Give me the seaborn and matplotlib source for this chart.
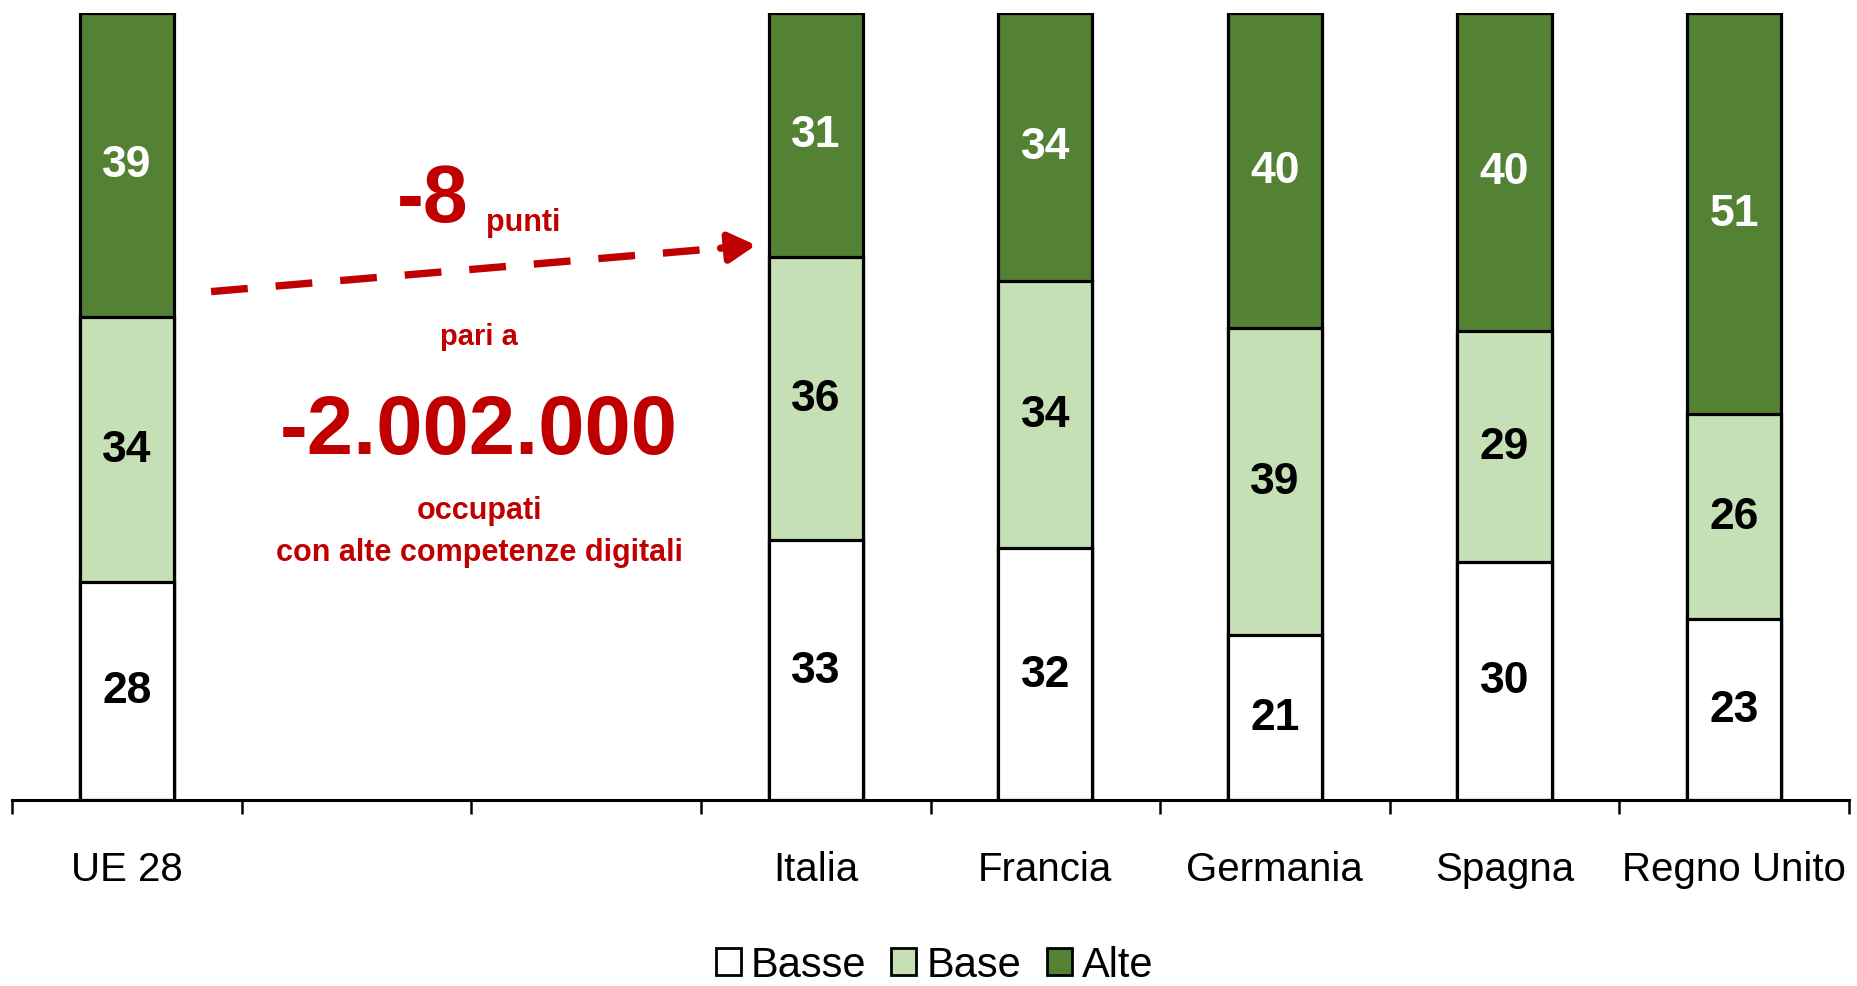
import matplotlib
matplotlib.use("Agg")
import matplotlib.pyplot as plt
from matplotlib import font_manager
from matplotlib.patches import Patch
import seaborn as sns
import pandas as pd
import numpy as np

# ---- data ----
slots = ["UE 28", " ", "  ", "Italia", "Francia", "Germania", "Spagna", "Regno Unito"]
countries = ["UE 28", "Italia", "Francia", "Germania", "Spagna", "Regno Unito"]
basse = [28, 33, 32, 21, 30, 23]
base = [34, 36, 34, 39, 29, 26]
alte = [39, 31, 34, 40, 40, 51]
series_names = ["Basse", "Base", "Alte"]
colors = ["#FFFFFF", "#C5E0B4", "#548235"]

sns.set_theme(style="white")
names = {f.name for f in font_manager.fontManager.ttflist}
fam = "Liberation Sans Narrow" if "Liberation Sans Narrow" in names else "Liberation Sans"
plt.rcParams["font.family"] = [fam, "DejaVu Sans"]
plt.rcParams["text.color"] = "black"
plt.rcParams["xtick.color"] = "black"

df = pd.DataFrame({"paese": countries, "Basse": basse, "Base": base, "Alte": alte})
tot = df[["Basse", "Base", "Alte"]].sum(axis=1)
pct = df[["Basse", "Base", "Alte"]].div(tot, axis=0) * 100
df["c1"] = pct["Basse"]
df["c2"] = pct["Basse"] + pct["Base"]
df["c3"] = pct["Basse"] + pct["Base"] + pct["Alte"]

fig = plt.figure(figsize=(18.58, 9.87), dpi=100)
ax = fig.add_axes([12 / 1858, 1 - 801 / 987, (1849 - 12) / 1858, (801 - 14) / 987])

W = 0.41
for col, c in zip(["c3", "c2", "c1"], colors[::-1]):
    sns.barplot(data=df, x="paese", y=col, order=slots, color=c, width=W,
                edgecolor="black", linewidth=2.3, saturation=1, ax=ax, errorbar=None)

# value labels
pos = {s: i for i, s in enumerate(slots)}
for _, r in df.iterrows():
    x = pos[r["paese"]]
    lows = [0, r["c1"], r["c2"]]
    highs = [r["c1"], r["c2"], r["c3"]]
    vals = [r["Basse"], r["Base"], r["Alte"]]
    for k in range(3):
        ax.text(x, (lows[k] + highs[k]) / 2, f"{int(vals[k])}", ha="center", va="center",
                fontsize=32, fontweight="bold", color="white" if k == 2 else "black")

ax.set_ylim(0, 100)
ax.set_xlim(-0.5, len(slots) - 0.5)
ax.set_xlabel("")
ax.set_ylabel("")
ax.set_yticks([])
for s in ["top", "right", "left"]:
    ax.spines[s].set_visible(False)
ax.spines["bottom"].set_linewidth(2.2)
ax.spines["bottom"].set_color("black")

ax.set_xticks(np.arange(-0.5, len(slots), 1.0))
ax.set_xticklabels([])
ax.tick_params(axis="x", which="major", length=10, width=1.8, color="black", direction="out", bottom=True)
ax.set_xticks(np.arange(len(slots)), minor=True)
ax.set_xticklabels(slots, minor=True, fontsize=29, color="black")
ax.tick_params(axis="x", which="minor", length=0, pad=36)

# annotations
red = "#C00000"
x0, y0, x1, y1 = 0.367, 64.6, 2.74, 70.5
t = 0.955
xm, ym = x0 + (x1 - x0) * t, y0 + (y1 - y0) * t
ax.annotate("", xy=(xm, ym), xytext=(x0, y0),
            arrowprops=dict(arrowstyle="-", color=red, lw=5.3, linestyle=(0, (5.0, 3.8)),
                            shrinkA=0, shrinkB=0, capstyle="butt"))
ax.annotate("", xy=(x1, y1), xytext=(xm - (x1 - x0) * 0.02, ym - (y1 - y0) * 0.02),
            arrowprops=dict(arrowstyle="-|>,head_length=1.6,head_width=0.9", color=red, lw=5.3,
                            shrinkA=0, shrinkB=0, mutation_scale=10))
ax.text(1.33, 76.3, "-8", ha="center", va="center", color=red, fontsize=58, fontweight="bold")
ax.text(1.565, 73.4, "punti", ha="left", va="center", color=red, fontsize=22, fontweight="bold")
ax.text(1.534, 59.0, "pari a", ha="center", va="center", color=red, fontsize=21, fontweight="bold")
ax.text(1.534, 46.9, "-2.002.000", ha="center", va="center", color=red, fontsize=60, fontweight="bold")
ax.text(1.534, 36.8, "occupati", ha="center", va="center", color=red, fontsize=22, fontweight="bold")
ax.text(1.534, 31.5, "con alte competenze digitali", ha="center", va="center", color=red,
        fontsize=22, fontweight="bold")

handles = [Patch(facecolor=c, edgecolor="black", linewidth=2, label=n) for n, c in zip(series_names, colors)]
fig.legend(handles=handles, loc="center", bbox_to_anchor=(0.503, 0.021), ncol=3, frameon=False,
           fontsize=30, handlelength=0.6, handleheight=0.6, handletextpad=0.25, columnspacing=0.6,
           labelcolor="black")

fig.savefig("out.png", dpi=100)
